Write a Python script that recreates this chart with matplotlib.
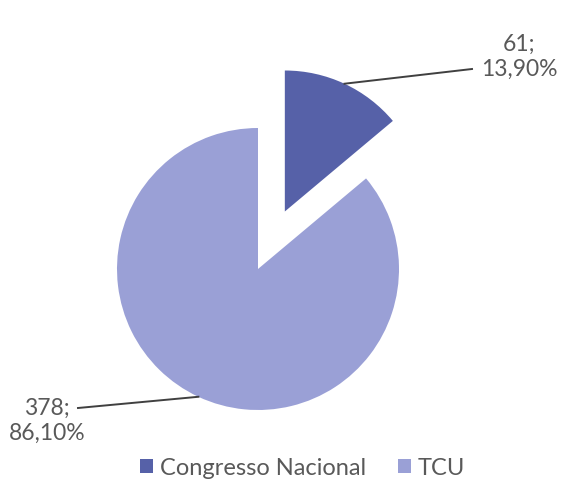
import numpy as np
import matplotlib as mpl
import matplotlib.pyplot as plt

mpl.rcParams.update({
    "font.family": ["Lato", "DejaVu Sans"],
    "text.color": "#595959",
})

labels = ["Congresso Nacional", "TCU"]
values = [61, 378]
pct_text = ["13,90%", "86,10%"]
colors = ["#5661a8", "#9aa0d6"]

W, H = 563, 481
fig = plt.figure(figsize=(W / 100, H / 100), dpi=100)
ax = fig.add_axes([0, 0, 1, 1])

cx, cy, r = 258, H - 270, 141
# explode is in data units here (not radius fraction)
explode = [0.45 * r, 0]
wedges, _ = ax.pie(values, colors=colors, startangle=90, counterclock=False,
                   explode=explode, center=(cx, cy), radius=r,
                   wedgeprops={"linewidth": 0})
# pie() resets the limits, so set them after
ax.set_xlim(0, W)
ax.set_ylim(0, H)
ax.set_aspect("equal")
ax.axis("off")

# leader lines from middle of each arc to the label
label_pos = [(519, H - 57), (47, H - 421)]
line_end = [(472, H - 70), (78, H - 409)]
for i, w in enumerate(wedges):
    mid = np.deg2rad((w.theta1 + w.theta2) / 2)
    ox, oy = w.center
    x0 = ox + w.r * np.cos(mid)
    y0 = oy + w.r * np.sin(mid)
    ax.plot([x0, line_end[i][0]], [y0, line_end[i][1]], color="#404040", lw=1.4)
    ax.text(label_pos[i][0], label_pos[i][1], f"{values[i]};\n{pct_text[i]}",
            ha="center", va="center", fontsize=16.5, linespacing=1.2)

ax.legend(wedges, labels, loc="center", bbox_to_anchor=(0.537, 0.026), ncol=2,
          frameon=False, fontsize=17, handlelength=0.55, handleheight=0.55,
          handletextpad=0.3, columnspacing=1.35)

fig.savefig("out.png", dpi=100)
